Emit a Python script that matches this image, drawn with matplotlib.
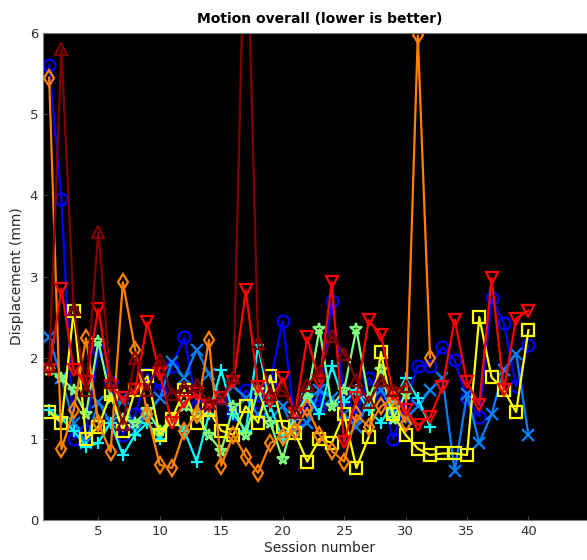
import matplotlib
matplotlib.use("Agg")
import matplotlib.pyplot as plt

sessions = list(range(1, 41))

blue_o = [5.6, 3.95, 1.0, 1.1, 2.1, 1.7, 1.05, 1.3, 1.8, 1.6, 1.9, 2.25, 1.4, 1.35, 1.5, 1.3,
          1.6, 1.45, 1.7, 2.45, 1.2, 1.45, 1.4, 2.7, 1.5, 1.3, 1.75, 1.55, 1.0, 1.45, 1.9, 1.9,
          2.13, 1.97, 1.5, 1.27, 2.73, 2.43, 1.65, 2.15]
azure_x = [2.25, 1.75, 1.2, 0.95, 1.45, 1.2, 1.5, 1.1, 1.3, 1.5, 1.95, 1.75, 2.1, 1.8, 1.5, 1.65,
           1.5, 1.3, 1.25, 1.4, 1.1, 1.2, 1.6, 1.5, 1.3, 1.15, 1.45, 1.6, 1.35, 1.25, 1.4, 1.6,
           1.75, 0.6, 1.55, 0.95, 1.3, 1.85, 2.05, 1.05]
cyan_plus = [1.35, 1.25, 1.1, 0.9, 0.95, 1.2, 0.8, 1.05, 1.2, 1.0, 1.25, 1.1, 0.72, 1.3, 1.85, 1.3,
             1.1, 2.15, 1.4, 1.0, 1.25, 1.55, 1.3, 1.9, 1.45, 1.6, 1.35, 1.2, 1.45, 1.75, 1.5, 1.15]
green_star = [1.85, 1.75, 1.6, 1.3, 2.2, 1.5, 1.25, 1.2, 1.35, 1.1, 1.25, 1.4, 1.3, 1.05, 0.85, 1.4,
              1.05, 1.6, 1.2, 0.75, 1.3, 1.5, 2.35, 1.4, 1.6, 2.35, 1.5, 1.85, 1.25, 1.55]
yellow_s = [1.33, 1.2, 2.58, 1.0, 1.15, 1.55, 1.1, 1.6, 1.77, 1.05, 1.25, 1.6, 1.2, 1.35, 1.1, 1.05,
            1.4, 1.2, 1.78, 1.15, 1.07, 0.72, 1.0, 0.95, 1.3, 0.64, 1.02, 2.07, 1.3, 1.05, 0.88, 0.8,
            0.82, 0.82, 0.8, 2.5, 1.76, 1.6, 1.33, 2.34]
orange_d = [5.45, 0.87, 1.35, 2.24, 1.2, 0.84, 2.93, 2.1, 1.3, 0.68, 0.64, 1.1, 1.3, 2.22, 0.67, 1.05,
            0.78, 0.58, 0.95, 1.02, 1.1, 1.38, 1.05, 0.85, 0.72, 1.3, 1.15, 1.4, 1.5, 1.2, 5.97, 2.0]
red_v = [1.85, 2.85, 1.85, 1.7, 2.6, 1.65, 1.5, 1.6, 2.44, 1.8, 1.2, 1.45, 1.55, 1.4, 1.5, 1.7,
         2.83, 1.64, 1.45, 1.75, 1.3, 2.25, 1.7, 2.93, 0.96, 1.5, 2.46, 2.28, 1.55, 1.35, 1.17, 1.27,
         1.64, 2.47, 1.7, 1.42, 2.98, 1.6, 2.48, 2.58]
darkred_t = [1.9, 5.8, 2.6, 1.6, 3.55, 1.7, 1.18, 2.0, 1.6, 1.97, 1.55, 1.64, 1.66, 1.44, 1.5, 1.76,
             8.0, 2.18, 1.55, 1.6, 1.33, 1.66, 1.82, 2.27, 2.05, 1.72, 1.45, 1.72, 1.6, 1.65]

x_ticks = [5, 10, 15, 20, 25, 30, 35, 40]
y_ticks = [0, 1, 2, 3, 4, 5, 6]

series = [
    (blue_o, (0, 0, 1), 'o'),
    (azure_x, (0, 0.5, 1), 'x'),
    (cyan_plus, (0, 1, 1), '+'),
    (green_star, (0.5, 1, 0.5), '*'),
    (yellow_s, (1, 1, 0), 's'),
    (orange_d, (1, 0.5, 0), 'd'),
    (red_v, (1, 0, 0), 'v'),
    (darkred_t, (0.5, 0, 0), '^'),
]

fig = plt.figure(figsize=(5.87, 5.6), dpi=100)
ax = fig.add_axes([43 / 587, 40 / 560, 553 / 587, 487 / 560])
ax.set_facecolor('black')

for vals, col, mk in series:
    ax.plot(sessions[:len(vals)], vals, color=col, marker=mk, markersize=8.5,
            markerfacecolor='none', markeredgewidth=1.6, linewidth=1.6)

ax.set_xlim(0.5, 45.5)
ax.set_ylim(0, 6)
ax.set_xticks(x_ticks)
ax.set_yticks(y_ticks)
ax.tick_params(direction='in', length=3, colors='#404040', labelsize=9.5, labelcolor='#303030')
for sp in ax.spines.values():
    sp.set_color('#808080')
ax.set_xlabel('Session number', fontsize=10, color='#262626', labelpad=2)
ax.set_ylabel('Displacement (mm)', fontsize=10, color='#262626', labelpad=4)
ax.set_title('Motion overall (lower is better)', fontsize=10, fontweight='bold', pad=7)

fig.savefig('out.png', dpi=100, facecolor='white')
